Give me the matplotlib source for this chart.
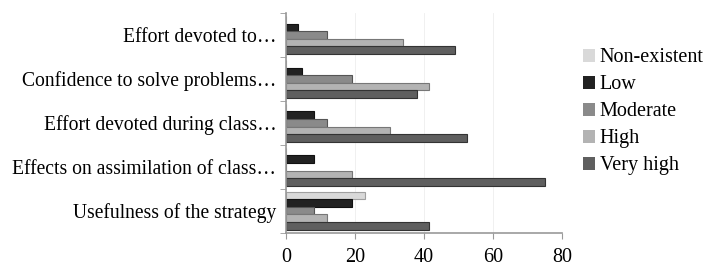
import numpy as np
import matplotlib.pyplot as plt
from matplotlib.patches import Patch

# data
categories = ['Usefulness of the strategy',
              'Effects on assimilation of class\u2026',
              'Effort devoted during class\u2026',
              'Confidence to solve problems\u2026',
              'Effort devoted to\u2026']
series = ['Non-existent', 'Low', 'Moderate', 'High', 'Very high']
values = {
    'Non-existent': [23, 0, 0, 0, 0],
    'Low':          [19, 8, 8, 4.5, 3.5],
    'Moderate':     [8, 0, 12, 19, 12],
    'High':         [12, 19, 30, 41.5, 34],
    'Very high':    [41.5, 75, 52.5, 38, 49],
}
colors = ['#d9d9d9', '#222222', '#8a8a8a', '#b3b3b3', '#5f5f5f']
edges = ['#a0a0a0', '#111111', '#555555', '#777777', '#333333']

plt.rcParams['font.family'] = ['Liberation Serif', 'DejaVu Serif']

fig = plt.figure(figsize=(7.07, 2.69), dpi=100)
ax = fig.add_axes([0.4045, 0.135, 0.3905, 0.817])

y = np.arange(len(categories))
h = 0.172
for k, s in enumerate(series):
    offs = (2 - k) * h
    ax.barh(y + offs, values[s], height=h, color=colors[k],
            edgecolor=edges[k], linewidth=0.8)

ax.set_xlim(0, 80)
ax.set_ylim(-0.5, len(categories) - 0.5)
ax.set_xticks([0, 20, 40, 60, 80])
ax.set_yticks(y)
ax.set_yticklabels(categories, fontsize=14.1)
ax.set_yticks(np.arange(-0.5, len(categories)), minor=True)
ax.tick_params(axis='y', which='major', length=0, pad=7)
ax.tick_params(axis='y', which='minor', length=4, color='#999999')
ax.tick_params(axis='x', labelsize=14.5, length=4, color='#999999', pad=7)
ax.xaxis.grid(True, color='#eeeeee', linewidth=0.6)
ax.set_axisbelow(True)
for sp in ['top', 'right']:
    ax.spines[sp].set_visible(False)
for sp in ['left', 'bottom']:
    ax.spines[sp].set_color('#999999')
    ax.spines[sp].set_linewidth(1.2)

handles = [Patch(facecolor=colors[k], edgecolor='none') for k in range(len(series))]
fig.legend(handles, series, loc='upper left', bbox_to_anchor=(0.81, 0.858),
           frameon=False, fontsize=14.5, handlelength=0.6, handleheight=0.6,
           handletextpad=0.25, labelspacing=0.4, borderpad=0)

fig.savefig('out.png', dpi=100)
